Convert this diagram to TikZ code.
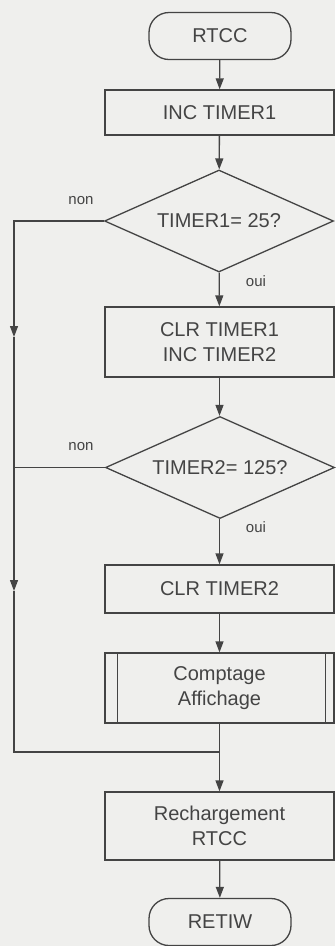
\documentclass[tikz,border=0pt]{standalone}
\usepackage{fontspec}
\setmainfont{Liberation Sans}
\usetikzlibrary{shapes.geometric,arrows.meta,positioning}
\definecolor{ink}{HTML}{444444}
\definecolor{paper}{HTML}{EFEFED}
\tikzset{
  flow/.style={draw=ink,line width=1.3pt,text=ink,font=\fontsize{20}{25}\selectfont,align=center},
  box/.style={flow,rectangle,minimum width=229pt,inner sep=2pt},
  term/.style={flow,rectangle,rounded corners=20pt,minimum width=142pt,minimum height=47pt},
  test/.style={flow,diamond,aspect=2.3,minimum width=229pt,minimum height=102pt,inner sep=0pt},
  wire/.style={draw=ink,line width=1.3pt},
  link/.style={wire,-{Triangle[width=8pt,length=11pt]}},
  rep/.style={text=ink,font=\fontsize{15}{18}\selectfont}
}
\begin{document}
\begin{tikzpicture}[x=1pt,y=-1pt]
    \path[use as bounding box,fill=paper] (0,0) rectangle (335,946);
    % main column
    \node[term] (rtcc) at (220,36) {RTCC};
    \node[box,minimum height=45pt] (inc1) at (219.5,112.5) {INC TIMER1};
    \node[test] (t1) at (219,221) {TIMER1= 25?};
    \node[box,minimum height=70pt] (clr1) at (219.5,342) {CLR TIMER1\\INC TIMER2};
    \node[test] (t2) at (220,467.5) {TIMER2= 125?};
    \node[box,minimum height=48pt] (clr2) at (219.5,589) {CLR TIMER2};
    \node[box,minimum height=70pt] (sub) at (219.5,688) {Comptage\\Affichage};
    \node[box,minimum height=68pt] (rech) at (219.5,826) {Rechargement\\RTCC};
    \node[term] (retiw) at (220,922) {RETIW};
    \draw[wire] ([xshift=13pt]sub.north west) -- ([xshift=13pt]sub.south west);
    \draw[wire] ([xshift=-9pt]sub.north east) -- ([xshift=-9pt]sub.south east);
    % labels
    \node[rep] (n1) at (81,201) {non};
    \node[rep] (o1) at (256,281) {oui};
    \node[rep] (n2) at (81,447) {non};
    \node[rep] (o2) at (256,527) {oui};
    % connectors
    \coordinate (k1) at (14,337);
    \coordinate (k2) at (14,591);
    \coordinate (mrg) at (219.5,752);
    \draw[link] (rtcc) -- (inc1);
    \draw[link] (inc1) -- (t1);
    \draw[link] (t1) -- (clr1);
    \draw[link] (clr1) -- (t2.north -| clr1);
    \draw[link] (t2.south -| clr2) -- (clr2);
    \draw[link] (clr2) -- (sub);
    \draw[wire] (sub) -- (mrg);
    \draw[link] (mrg) -- (rech);
    \draw[link] (rech) -- (retiw);
    \draw[link] (t1.west) -| (k1);
    \draw[link] (k1) -- (k2);
    \draw[wire] (k2) -- (k2 |- mrg) -- (mrg);
    \draw[wire] (t2.west) -- (t2.west -| k1);
\end{tikzpicture}
\end{document}
